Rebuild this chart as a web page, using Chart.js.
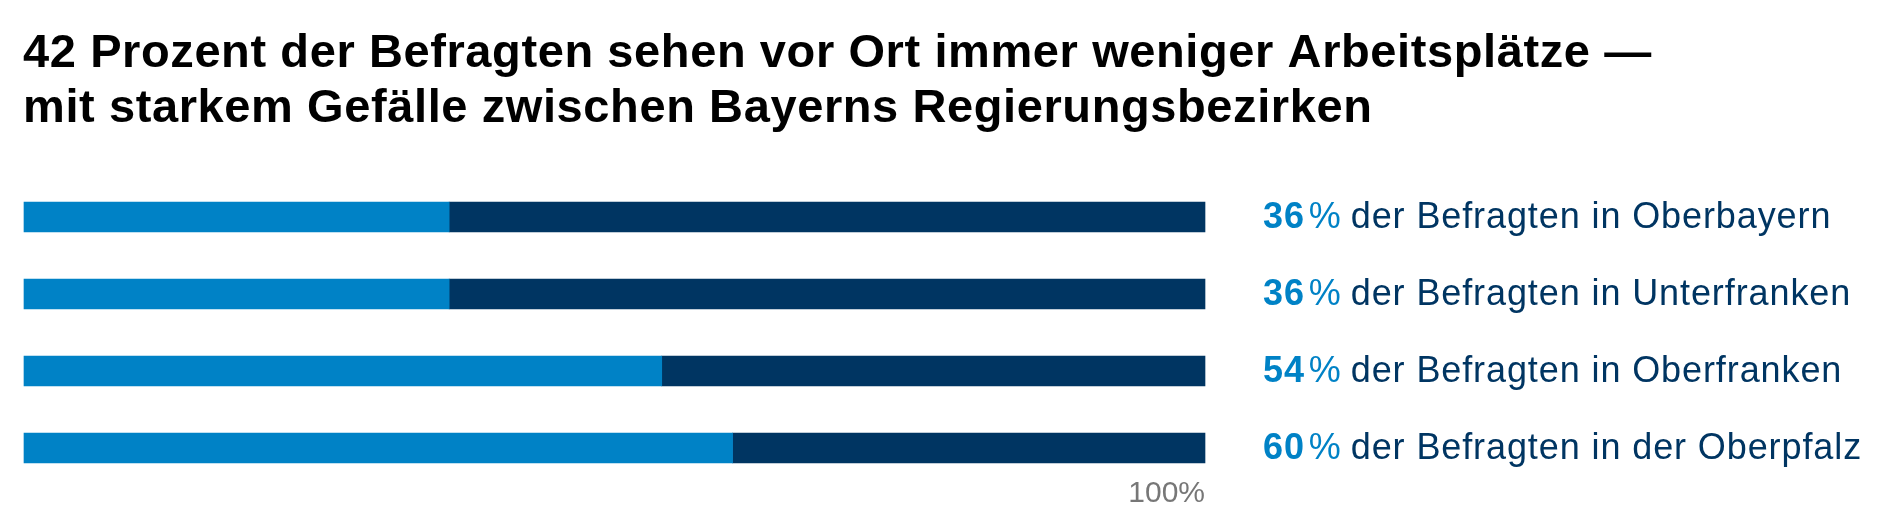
<!DOCTYPE html>
<html>
<head>
<meta charset="utf-8">
<script src="https://cdn.jsdelivr.net/npm/chart.js@4"></script>
<style>
  html, body { margin: 0; padding: 0; background: #fff; }
  #wrap { width: 1886px; height: 525px; position: relative; }
</style>
</head>
<body>
<div id="wrap"><canvas id="chart"></canvas></div>
<script>
// Daten
var regions = ['Oberbayern', 'Unterfranken', 'Oberfranken', 'der Oberpfalz'];
var labelPrefix = ['in', 'in', 'in', 'in'];
var shareValues = [36, 36, 54, 60];
var restValues = [64, 64, 46, 40];
var tickLabels = ['100%'];
var titleLines = [
    '42 Prozent der Befragten sehen vor Ort immer weniger Arbeitsplätze \u2014',
    'mit starkem Gefälle zwischen Bayerns Regierungsbezirken'
];

var lightBlue = '#0082c6';
var navy = '#003562';
var fontFam = '"Liberation Sans", Arial, sans-serif';

// Titel oben links
var titlePlugin = {
    id: 'titleText',
    afterDraw: function (chart) {
        var ctx = chart.ctx;
        ctx.save();
        ctx.fillStyle = '#000';
        ctx.font = 'bold 47px ' + fontFam;
        ctx.letterSpacing = '0.6px';
        ctx.textBaseline = 'alphabetic';
        ctx.textAlign = 'left';
        ctx.fillText(titleLines[0], 23, 67);
        ctx.fillText(titleLines[1], 23, 122);
        ctx.restore();
    }
};

// Beschriftung rechts neben den Balken
var rightLabels = {
    id: 'rightLabels',
    afterDatasetsDraw: function (chart) {
        var ctx = chart.ctx;
        var meta = chart.getDatasetMeta(0);
        var x0 = chart.chartArea.right + 58;
        ctx.save();
        ctx.textBaseline = 'middle';
        ctx.textAlign = 'left';
        ctx.letterSpacing = '0.9px';
        meta.data.forEach(function (bar, i) {
            var y = bar.y + 1;
            var x = x0;
            ctx.font = 'bold 36px ' + fontFam;
            ctx.fillStyle = lightBlue;
            var num = String(shareValues[i]);
            ctx.fillText(num, x, y);
            x += ctx.measureText(num).width + 4;
            ctx.font = '36px ' + fontFam;
            ctx.fillText('%', x, y);
            x += ctx.measureText('%').width + 9;
            ctx.fillStyle = navy;
            ctx.fillText('der Befragten ' + labelPrefix[i] + ' ' + regions[i], x, y);
        });
        ctx.restore();
    }
};

new Chart(document.getElementById('chart'), {
    type: 'bar',
    data: {
        labels: regions,
        datasets: [
            { data: shareValues, backgroundColor: lightBlue, barThickness: 30, borderWidth: 0, clip: false },
            { data: restValues, backgroundColor: navy, barThickness: 30, borderWidth: 0, clip: false }
        ]
    },
    options: {
        indexAxis: 'y',
        responsive: true,
        maintainAspectRatio: false,
        animation: false,
        layout: {
            padding: { left: 24, right: 681, top: 217, bottom: 0 }
        },
        scales: {
            x: {
                stacked: true,
                min: 0,
                max: 100,
                grid: { display: false, drawTicks: false },
                border: { display: false },
                afterBuildTicks: function (scale) {
                    scale.ticks = [{ value: 100 }];
                },
                afterFit: function (scale) {
                    scale.height = 77;
                },
                ticks: {
                    align: 'end',
                    padding: 28,
                    color: '#777',
                    font: { family: fontFam, size: 30 },
                    callback: function (v) { return tickLabels[0]; }
                }
            },
            y: {
                stacked: true,
                display: false,
                offset: false
            }
        },
        plugins: {
            legend: { display: false },
            tooltip: { enabled: false },
            title: { display: false }
        }
    },
    plugins: [titlePlugin, rightLabels]
});
</script>
</body>
</html>
